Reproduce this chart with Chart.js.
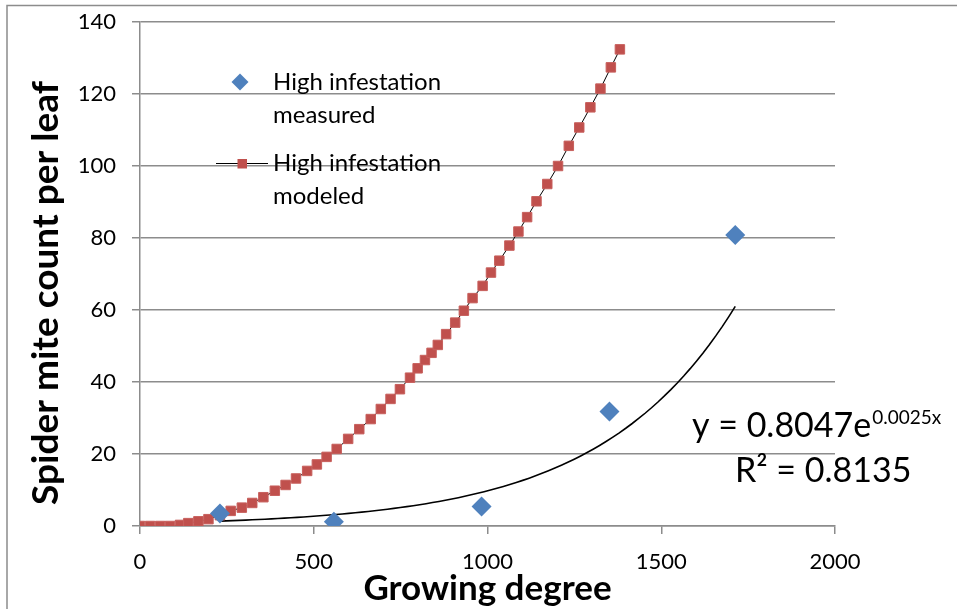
<!DOCTYPE html>
<html><head><meta charset="utf-8">
<script src="https://cdn.jsdelivr.net/npm/chart.js@4/dist/chart.umd.min.js"></script>
<style>html,body{margin:0;padding:0;background:#fff}#wrap{width:957px;height:609px;position:relative}</style>
</head><body><div id="wrap"><canvas id="c" width="957" height="609"></canvas></div>
<script>
// ---- data ----
const measuredX = [230, 558, 983, 1351, 1713];
const measuredY = [3.5, 1.2, 5.4, 31.8, 80.8];
const modeledX = [0,29,58,86,115,139,168,197,230,261,293,323,355,388,419,449,481,509,537,566,599,631,664,693,721,748,777,799,820,839,857,881,907,932,957,986,1010,1034,1063,1089,1114,1141,1172,1203,1234,1264,1296,1325,1355,1381];
const modeledY = [0,0,0,0,0.3,0.8,1.3,1.9,3.0,4.2,5.1,6.4,8.0,9.8,11.4,13.2,15.3,17.1,19.2,21.4,24.2,26.9,29.7,32.5,35.3,38.0,41.2,43.8,46.1,48.1,50.3,53.3,56.5,59.8,63.3,66.7,70.4,73.7,77.9,81.8,85.8,90.2,95.0,100.0,105.6,110.7,116.3,121.5,127.4,132.4];
const xTicks = [0, 500, 1000, 1500, 2000];
const yTicks = [0, 20, 40, 60, 80, 100, 120, 140];
const seriesLegend = [['High infestation', 'measured'], ['High infestation', 'modeled']];
const xTitle = 'Growing degree';
const yTitle = 'Spider mite count per leaf';
const eqMain = 'y = 0.8047e';
const eqExp = '0.0025x';
const eqR2 = 'R\u00B2 = 0.8135';

// exponential trendline: least-squares fit of ln(y) on x from the measured points
function expFit(xs, ys) {
  const n = xs.length;
  const ly = ys.map(v => Math.log(v));
  const mx = xs.reduce((a, b) => a + b, 0) / n;
  const my = ly.reduce((a, b) => a + b, 0) / n;
  let sxy = 0, sxx = 0;
  for (let i = 0; i < n; i++) { sxy += (xs[i] - mx) * (ly[i] - my); sxx += (xs[i] - mx) ** 2; }
  const b = sxy / sxx;
  return { a: Math.exp(my - b * mx), b };
}
const fit = expFit(measuredX, measuredY);
const trend = [];
{
  const x0 = Math.min(...measuredX), x1 = Math.max(...measuredX), N = 80;
  for (let i = 0; i <= N; i++) { const x = x0 + (x1 - x0) * i / N; trend.push({ x, y: fit.a * Math.exp(fit.b * x) }); }
}

const FONT = 'Lato';
const GRID = '#8c8c8c';

const decor = {
  id: 'decor',
  beforeDraw(chart) {
    const ctx = chart.ctx;
    ctx.save();
    ctx.fillStyle = '#fff';
    ctx.fillRect(0, 0, chart.width, chart.height);
    ctx.strokeStyle = '#8c8c8c';
    ctx.lineWidth = 1.5;
    ctx.beginPath();
    ctx.moveTo(7, 609); ctx.lineTo(7, 5.5); ctx.lineTo(957, 5.5);
    ctx.stroke();
    ctx.restore();
  },
  afterDraw(chart) {
    const ctx = chart.ctx;
    ctx.save();
    ctx.fillStyle = '#000';
    ctx.textAlign = 'center';
    ctx.textBaseline = 'alphabetic';
    const ca = chart.chartArea;
    ctx.font = 'bold 35px ' + FONT;
    ctx.fillText(xTitle, (ca.left + ca.right) / 2, 600);
    ctx.font = 'bold 37px ' + FONT;
    ctx.save();
    ctx.translate(58, 293);
    ctx.rotate(-Math.PI / 2);
    ctx.fillText(yTitle, 0, 0);
    ctx.restore();
    // legend
    ctx.textAlign = 'left';
    ctx.font = '24px ' + FONT;
    const base = [90, 171];
    ctx.fillStyle = '#4F81BD';
    ctx.beginPath();
    ctx.moveTo(240, 73.5); ctx.lineTo(248.5, 82); ctx.lineTo(240, 90.5); ctx.lineTo(231.5, 82); ctx.closePath();
    ctx.fill();
    ctx.strokeStyle = '#000'; ctx.lineWidth = 1;
    ctx.beginPath(); ctx.moveTo(216, 163.5); ctx.lineTo(268, 163.5); ctx.stroke();
    ctx.fillStyle = '#C0504D';
    ctx.fillRect(237.5, 159, 9.5, 9.5);
    ctx.fillStyle = '#000';
    seriesLegend.forEach((lines, i) => {
      lines.forEach((t, j) => ctx.fillText(t, 273, base[i] + j * 33));
    });
    // equation
    ctx.font = '34px ' + FONT;
    ctx.fillText(eqMain, 692, 437);
    const w = ctx.measureText(eqMain).width;
    ctx.font = '19px ' + FONT;
    ctx.fillText(eqExp, 692 + w + 1, 424);
    ctx.font = '34px ' + FONT;
    ctx.fillText(eqR2, 735, 482);
    ctx.restore();
  }
};

new Chart(document.getElementById('c'), {
  type: 'scatter',
  data: {
    datasets: [
      {
        label: seriesLegend[0].join(' '),
        data: measuredX.map((x, i) => ({ x, y: measuredY[i] })),
        pointStyle: 'rectRot', pointRadius: 10, pointHoverRadius: 10,
        backgroundColor: '#4F81BD', borderColor: '#4F81BD', borderWidth: 0,
        showLine: false, order: 0
      },
      {
        label: seriesLegend[1].join(' '),
        data: modeledX.map((x, i) => ({ x, y: modeledY[i] })),
        showLine: true, borderColor: '#000', borderWidth: 1, tension: 0,
        pointStyle: 'rect', pointRadius: 6.7, pointHoverRadius: 6.7,
        pointBackgroundColor: '#C0504D', pointBorderColor: '#C75F5C', pointBorderWidth: 1,
        order: 1
      },
      {
        label: 'Expon. trend',
        data: trend,
        showLine: true, borderColor: '#000', borderWidth: 1.6, tension: 0,
        pointRadius: 0, pointHoverRadius: 0, order: 2
      }
    ]
  },
  options: {
    responsive: false,
    animation: false,
    events: [],
    layout: { padding: { top: 22, right: 122, left: 0, bottom: 0 } },
    plugins: { legend: { display: false }, tooltip: { enabled: false } },
    scales: {
      x: {
        type: 'linear', position: 'bottom', min: 0, max: 2000,
        afterBuildTicks: s => { s.ticks = xTicks.map(v => ({ value: v })); },
        afterFit: s => { s.height = 83; s.paddingLeft = 0; s.paddingRight = 0; },
        grid: { display: true, drawOnChartArea: false, drawTicks: true, tickLength: 8, color: GRID, lineWidth: 1.5 },
        border: { display: true, color: GRID, width: 1.5 },
        ticks: { color: '#000', font: { family: FONT, size: 22 }, padding: 15, maxRotation: 0, callback: v => String(v) }
      },
      y: {
        type: 'linear', position: 'left', min: 0, max: 140,
        afterBuildTicks: s => { s.ticks = yTicks.map(v => ({ value: v })); },
        afterFit: s => { s.width = 140; s.paddingTop = 0; s.paddingBottom = 0; },
        grid: { display: true, drawOnChartArea: true, drawTicks: true, tickLength: 8, color: GRID, lineWidth: 1.5 },
        border: { display: true, color: GRID, width: 1.5 },
        ticks: { color: '#000', font: { family: FONT, size: 22 }, padding: 16, callback: v => String(v) }
      }
    }
  },
  plugins: [decor]
});
</script>
</body></html>
